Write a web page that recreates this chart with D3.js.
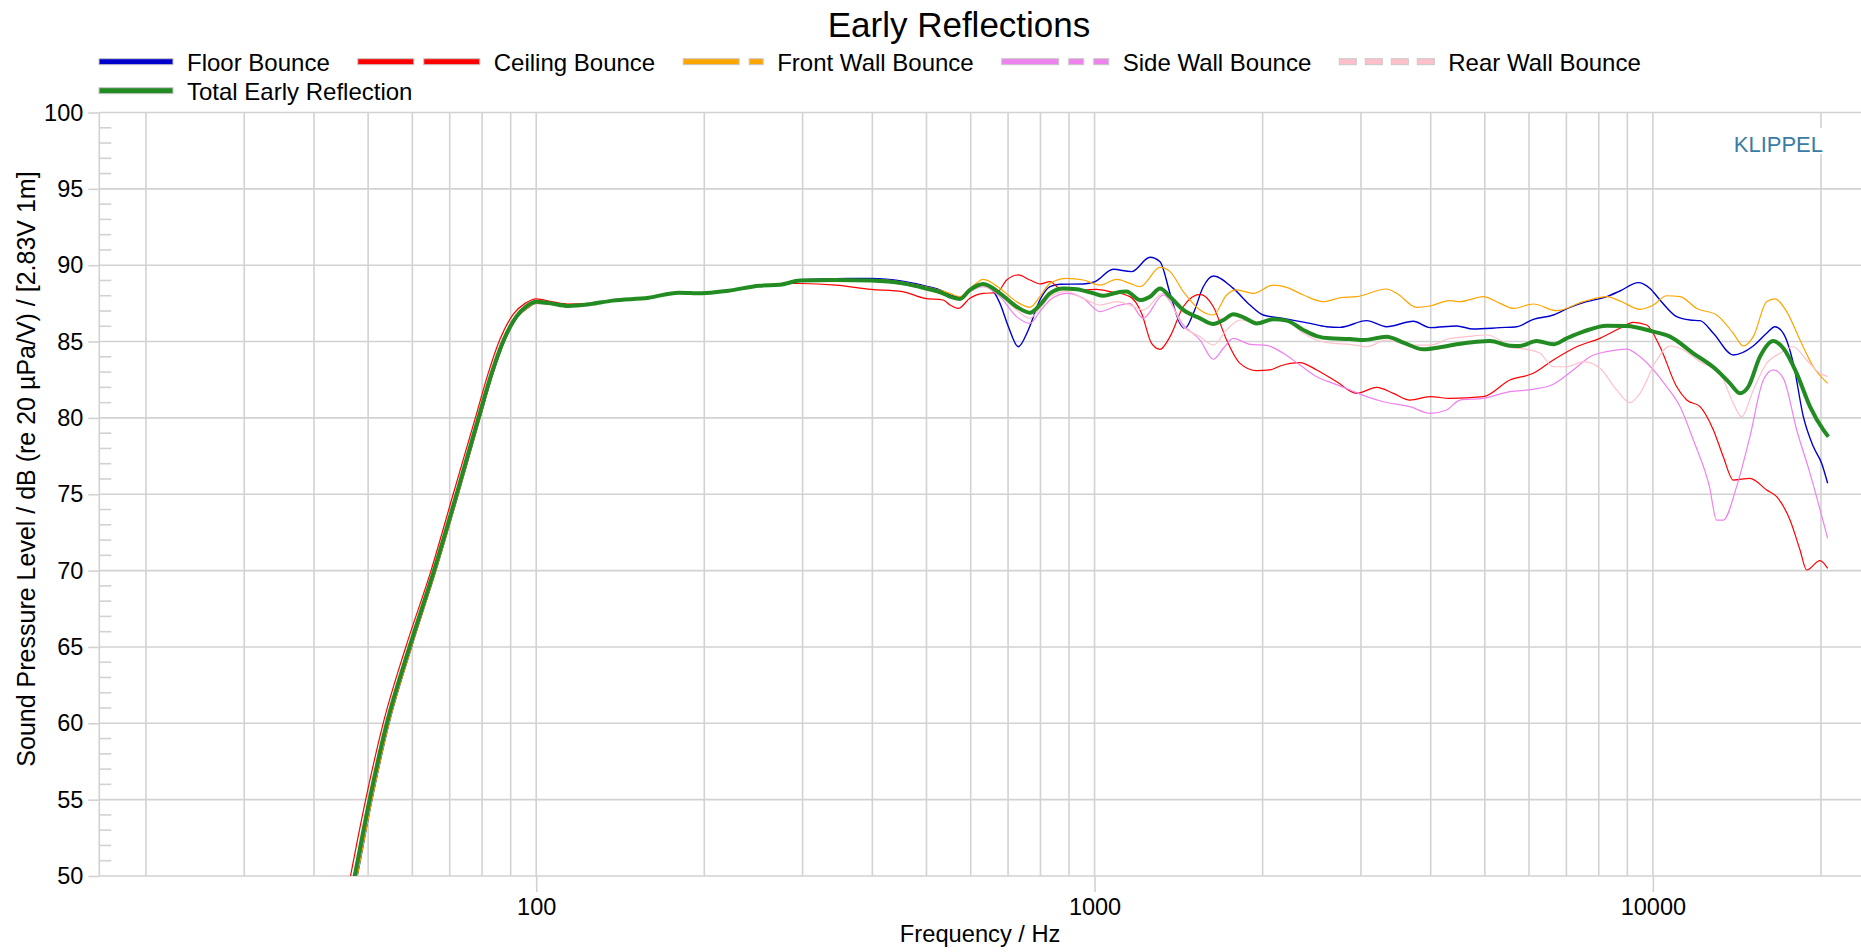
<!DOCTYPE html>
<html>
<head>
<meta charset="utf-8">
<title>Early Reflections</title>
<script src="https://d3js.org/d3.v7.min.js"></script>
<style>
  body { margin: 0; background: #fff; }
  svg { display: block; font-family: "Liberation Sans", Arial, sans-serif; }
  .grid line { stroke: #d2d2d2; stroke-width: 1.6px; }
  .axis path { display: none; }
  .axis line { stroke: #d2d2d2; stroke-width: 1.6px; }
  .axis text { font-size: 23.5px; fill: #000; font-family: "Liberation Sans", Arial, sans-serif; }
</style>
</head>
<body>
<svg></svg>
<script>
// frequency response data, [Hz, dB]
const floorBounce = [[44,43.6],[47.8,50],[50.8,55],[54.5,60],[59.8,65],[66.1,70],[72.5,75],[79.3,80],[83.5,82.8],[87.7,85],[92.5,86.6],[96.5,87.2],[100,87.5],[106,87.45],[114,87.3],[125,87.45],[137,87.68],[159,87.87],[180,88.2],[198,88.16],[221,88.33],[251,88.66],[273,88.75],[297,89.05],[344,89.12],[398,89.13],[453,88.95],[497,88.64],[535,88.3],[551,88.05],[575,87.9],[600,88.35],[632,88.7],[650,88.55],[677,87.5],[701,85.97],[730,84.66],[761,85.76],[798,87.72],[832,88.59],[867,88.75],[955,88.77],[1002,88.92],[1080,89.73],[1165,89.58],[1257,90.52],[1310,90.23],[1365,88.16],[1422,86.19],[1452,85.87],[1503,86.85],[1566,88.59],[1632,89.29],[1772,88.48],[1898,87.39],[2005,86.74],[2178,86.52],[2431,86.19],[2604,85.97],[2751,85.93],[3071,86.37],[3335,85.97],[3723,86.33],[3988,85.91],[4452,86.02],[4768,85.82],[5323,85.91],[5702,85.97],[6107,86.45],[6632,86.74],[7103,87.24],[7609,87.61],[8265,87.94],[8730,88.31],[9417,88.86],[9881,88.48],[10297,87.72],[11031,86.63],[11654,86.41],[12145,86.37],[12832,85.54],[13932,84.12],[15129,84.71],[15984,85.54],[16543,85.97],[17125,85.54],[17845,83.57],[18597,80.08],[19380,78.12],[20061,77.02],[20560,75.72]];

const ceilingBounce = [[44,45.2],[46.5,50],[49.5,55],[53.2,60],[58.4,65],[64.8,70],[71,75],[77.8,80],[82,82.9],[86,85.1],[91,86.8],[95.5,87.5],[100,87.8],[107,87.6],[114,87.45],[125,87.5],[137,87.7],[159,87.87],[180,88.2],[198,88.16],[221,88.3],[251,88.62],[276,88.8],[297,88.8],[344,88.7],[398,88.42],[453,88.27],[497,87.83],[535,87.72],[551,87.4],[570,87.17],[598,87.83],[632,88.16],[668,88.2],[696,89.03],[730,89.36],[766,89.03],[798,88.77],[832,88.92],[867,88.48],[955,88.38],[1009,88.42],[1066,88.27],[1157,87.94],[1214,86.85],[1265,84.88],[1310,84.49],[1365,85.32],[1442,87.28],[1545,88.09],[1632,87.28],[1724,85.1],[1822,83.57],[1951,83.09],[2062,83.14],[2149,83.4],[2333,83.62],[2499,83.14],[2714,82.37],[2947,81.61],[3201,82.0],[3429,81.61],[3672,81.17],[3989,81.39],[4330,81.28],[4968,81.39],[5546,82.48],[6107,82.92],[6632,83.79],[7302,84.66],[8040,85.21],[8730,85.87],[9223,86.26],[9745,86.08],[10297,84.66],[11031,82.04],[11497,81.17],[12145,80.74],[12832,79.21],[13367,77.46],[13932,75.93],[14922,76.04],[15984,75.28],[16660,74.84],[17602,73.31],[18344,71.35],[18853,70.04],[19920,70.65],[20560,70.15]];

const frontWallBounce = [[44,43.6],[47.8,50],[50.8,55],[54.5,60],[59.8,65],[66.1,70],[72.5,75],[79.3,80],[83.5,82.8],[87.7,85],[92.5,86.6],[96.5,87.2],[100,87.5],[106,87.45],[114,87.3],[125,87.45],[137,87.68],[159,87.87],[180,88.2],[198,88.16],[221,88.33],[251,88.66],[273,88.75],[297,89.0],[344,89.05],[398,89.05],[453,88.9],[497,88.6],[535,88.3],[551,88.16],[574,87.94],[600,88.5],[632,89.07],[677,88.48],[725,87.61],[766,87.24],[798,87.94],[832,88.81],[891,89.14],[955,89.03],[1023,88.7],[1095,89.07],[1157,88.81],[1206,88.59],[1310,89.86],[1365,89.58],[1442,88.27],[1545,87.07],[1632,86.74],[1724,88.05],[1797,88.38],[1925,88.16],[2090,88.7],[2208,88.55],[2365,88.05],[2569,87.61],[2751,87.87],[2947,87.94],[3335,88.44],[3475,88.16],[3775,87.24],[3988,87.33],[4330,87.68],[4513,87.61],[4968,87.94],[5323,87.5],[5623,87.17],[6107,87.46],[6724,87.02],[7507,87.61],[8265,87.94],[8730,87.66],[9482,87.11],[10018,87.39],[10582,88.0],[11183,87.94],[11978,87.17],[13007,86.74],[13932,85.54],[14520,84.71],[15129,85.32],[15984,87.61],[16543,87.79],[17364,86.96],[18344,85.1],[19380,83.35],[20560,82.26]];

const sideWallBounce = [[44,44.1],[47.3,50],[50.3,55],[54,60],[59.3,65],[65.6,70],[72,75],[78.8,80],[83,82.8],[87.2,85],[92,86.6],[96,87.3],[100,87.6],[106,87.5],[114,87.33],[125,87.45],[137,87.68],[159,87.87],[180,88.2],[198,88.16],[221,88.33],[251,88.66],[273,88.72],[297,88.95],[344,89.0],[398,88.95],[453,88.75],[497,88.45],[535,88.1],[551,87.94],[575,87.8],[600,88.3],[632,88.59],[677,87.94],[725,86.63],[766,86.19],[798,86.96],[832,87.72],[891,88.16],[955,87.83],[1023,86.96],[1095,87.33],[1157,87.5],[1222,86.52],[1328,88.05],[1442,86.08],[1545,85.1],[1632,83.84],[1701,84.56],[1772,85.21],[1898,84.82],[2033,84.75],[2178,84.23],[2333,83.46],[2499,82.7],[2677,82.26],[2867,81.83],[3071,81.39],[3290,81.06],[3672,80.74],[3988,80.3],[4272,80.52],[4513,81.17],[4968,81.28],[5546,81.72],[6107,81.87],[6632,82.2],[7201,83.14],[7715,84.01],[8265,84.34],[8974,84.51],[9482,84.01],[10582,82.05],[11183,80.74],[11814,78.55],[12627,75.5],[13007,73.31],[13367,73.31],[14125,75.5],[14922,78.77],[15768,82.48],[16432,83.14],[17125,82.59],[18094,79.21],[19117,76.37],[20560,72.11]];

const rearWallBounce = [[44,44.1],[47.3,50],[50.3,55],[54,60],[59.3,65],[65.6,70],[72,75],[78.8,80],[83,82.8],[87.2,85],[92,86.6],[96,87.3],[100,87.6],[106,87.5],[114,87.33],[125,87.45],[137,87.68],[159,87.87],[180,88.2],[198,88.16],[221,88.33],[251,88.66],[273,88.72],[297,88.95],[344,89.0],[398,88.95],[453,88.75],[497,88.45],[535,88.1],[551,87.94],[575,87.8],[600,88.3],[632,88.59],[677,88.05],[725,87.07],[766,86.52],[798,87.17],[832,87.94],[891,88.27],[955,87.83],[1023,87.39],[1095,87.61],[1157,87.39],[1222,87.07],[1328,88.16],[1442,85.97],[1545,85.32],[1632,84.77],[1724,85.76],[1822,86.41],[1951,86.24],[2090,86.46],[2208,86.37],[2365,85.54],[2499,85.1],[2677,84.88],[2867,84.82],[3071,84.66],[3335,85.1],[3672,84.77],[3989,84.77],[4330,85.2],[4639,85.32],[5039,85.43],[5323,85.1],[5546,84.62],[5941,84.49],[6279,84.23],[6632,83.35],[7006,83.35],[7507,83.68],[8040,83.25],[8612,81.83],[9099,81.0],[9482,81.61],[10155,83.79],[10731,84.71],[11338,84.45],[12145,83.68],[13186,82.92],[13932,80.95],[14421,80.08],[15129,81.83],[15984,83.57],[16890,84.23],[17845,84.66],[18853,83.79],[19920,82.92],[20560,82.7]];

const totalEarlyReflection = [[44,44.1],[47.3,50],[50.3,55],[54,60],[59.3,65],[65.6,70],[72,75],[78.8,80],[83,82.8],[87.2,85],[92,86.6],[96,87.3],[100,87.6],[106,87.5],[114,87.33],[125,87.45],[137,87.68],[159,87.87],[180,88.2],[198,88.16],[221,88.33],[251,88.66],[273,88.72],[297,88.99],[344,89.03],[398,88.99],[453,88.81],[497,88.49],[535,88.16],[551,87.94],[574,87.79],[598,88.38],[632,88.77],[677,88.16],[725,87.28],[766,86.89],[798,87.39],[832,88.16],[879,88.48],[929,88.42],[995,88.16],[1037,88.0],[1095,88.2],[1141,88.27],[1206,87.72],[1257,87.94],[1310,88.48],[1365,87.94],[1442,87.07],[1545,86.52],[1632,86.15],[1701,86.41],[1772,86.78],[1847,86.59],[1951,86.19],[2090,86.46],[2208,86.37],[2365,85.76],[2499,85.36],[2640,85.21],[2867,85.17],[3029,85.1],[3335,85.32],[3573,84.93],[3880,84.49],[4213,84.66],[4452,84.82],[4834,84.99],[5108,85.04],[5546,84.73],[5779,84.71],[6191,85.04],[6632,84.82],[7006,85.21],[7507,85.65],[8265,86.04],[8974,86.02],[10018,85.65],[10731,85.32],[11814,84.23],[13007,83.14],[13743,82.26],[14322,81.61],[14822,82.04],[15552,84.01],[16432,85.04],[17125,84.56],[18094,82.92],[19117,80.74],[20196,79.21],[20618,78.77]];

const seriesNames = ["Floor Bounce", "Ceiling Bounce", "Front Wall Bounce", "Side Wall Bounce", "Rear Wall Bounce", "Total Early Reflection"];
const yTicks = [50, 55, 60, 65, 70, 75, 80, 85, 90, 95, 100];
const xTickLabels = [100, 1000, 10000];
const xGridFreqs = [20, 30, 40, 50, 60, 70, 80, 90, 100, 200, 300, 400, 500, 600, 700, 800, 900,
  1000, 2000, 3000, 4000, 5000, 6000, 7000, 8000, 9000, 10000, 20000];

const width = 1861, height = 952;
const plot = { left: 99.3, right: 1861, top: 112.5, bottom: 876 };

const svg = d3.select("svg").attr("width", width).attr("height", height);

const x = d3.scaleLog().domain([16.5, 23590]).range([plot.left, plot.right]);
const y = d3.scaleLinear().domain([50, 100]).range([plot.bottom, plot.top]);

// grid
const grid = svg.append("g").attr("class", "grid");
grid.selectAll("line.v").data(xGridFreqs).join("line")
  .attr("class", "v")
  .attr("x1", d => x(d)).attr("x2", d => x(d))
  .attr("y1", plot.top).attr("y2", plot.bottom);
grid.selectAll("line.h").data(yTicks).join("line")
  .attr("class", "h")
  .attr("x1", plot.left).attr("x2", plot.right)
  .attr("y1", d => y(d)).attr("y2", d => y(d));
// minor 1 dB ticks inside the plot
grid.selectAll("line.m").data(d3.range(50, 101).filter(d => d % 5 !== 0)).join("line")
  .attr("class", "m")
  .attr("x1", plot.left).attr("x2", plot.left + 12)
  .attr("y1", d => y(d)).attr("y2", d => y(d));
grid.append("line")
  .attr("x1", plot.left).attr("x2", plot.left)
  .attr("y1", plot.top).attr("y2", plot.bottom);

// axes
svg.append("g").attr("class", "axis")
  .attr("transform", `translate(${plot.left},0)`)
  .call(d3.axisLeft(y).tickValues(yTicks).tickSize(11).tickPadding(5));

svg.append("g").attr("class", "axis")
  .attr("transform", `translate(0,${plot.bottom})`)
  .call(d3.axisBottom(x).tickValues(xTickLabels).tickFormat(d3.format("d")).tickSize(16).tickPadding(6));

// KLIPPEL mark
svg.append("rect").attr("x", 1733).attr("y", 128).attr("width", 92).attr("height", 26).attr("fill", "#fff");
svg.append("text").attr("x", 1823).attr("y", 152).attr("text-anchor", "end")
  .attr("font-size", 22).attr("fill", "#3a7ca5").text("KLIPPEL");

// curves
svg.append("clipPath").attr("id", "clip").append("rect")
  .attr("x", plot.left).attr("y", plot.top - 4)
  .attr("width", plot.right - plot.left).attr("height", plot.bottom - plot.top + 4);

const series = [
  { name: seriesNames[0], data: floorBounce, color: "#0000cd", width: 1.4, legendDash: [74] },
  { name: seriesNames[1], data: ceilingBounce, color: "#ff0000", width: 1.2, legendDash: [56, 10, 56] },
  { name: seriesNames[2], data: frontWallBounce, color: "#ffa500", width: 1.2, legendDash: [56, 10, 14] },
  { name: seriesNames[3], data: sideWallBounce, color: "#ee82ee", width: 1.2, legendDash: [57, 10, 15, 10, 15] },
  { name: seriesNames[4], data: rearWallBounce, color: "#ffc0cb", width: 1.2, legendDash: [17, 9, 17, 9, 17, 9, 17] },
  { name: seriesNames[5], data: totalEarlyReflection, color: "#228b22", width: 4, legendDash: [74] }
];

const line = d3.line()
  .x(d => x(d[0]))
  .y(d => y(d[1]))
  .curve(d3.curveMonotoneX);

const curves = svg.append("g").attr("clip-path", "url(#clip)");
curves.selectAll("path").data(series).join("path")
  .attr("d", d => line(d.data))
  .attr("fill", "none")
  .attr("stroke", d => d.color)
  .attr("stroke-width", d => d.width)
  .attr("stroke-linejoin", "round");

// title
svg.append("text").attr("x", 959).attr("y", 37).attr("text-anchor", "middle")
  .attr("font-size", 35).text("Early Reflections");

// axis titles
svg.append("text").attr("x", (plot.left + plot.right) / 2).attr("y", 942)
  .attr("text-anchor", "middle").attr("font-size", 23.7).text("Frequency / Hz");
svg.append("text")
  .attr("transform", "translate(35,469) rotate(-90)")
  .attr("text-anchor", "middle").attr("font-size", 25)
  .text("Sound Pressure Level / dB (re 20 µPa/V) / [2.83V 1m]");

// legend
const legend = svg.append("g");
let lx = 99;
series.forEach((s, i) => {
  const row = i < 5 ? 0 : 1;
  if (i === 5) lx = 99;
  const cy = row === 0 ? 61.7 : 90.7;
  const g = legend.append("g");
  let off = 0;
  s.legendDash.forEach((len, k) => {
    if (k % 2 === 0) {
      g.append("rect")
        .attr("x", lx + off).attr("y", cy - 3)
        .attr("width", len).attr("height", 6)
        .attr("fill", s.color).attr("stroke", "#c8c8c8").attr("stroke-width", 1);
    }
    off += len;
  });
  const t = g.append("text").attr("x", lx + off + 14).attr("y", cy + 9.5)
    .attr("font-size", 24).text(s.name);
  lx = lx + off + 14 + t.node().getComputedTextLength() + 28;
});
</script>
</body>
</html>
